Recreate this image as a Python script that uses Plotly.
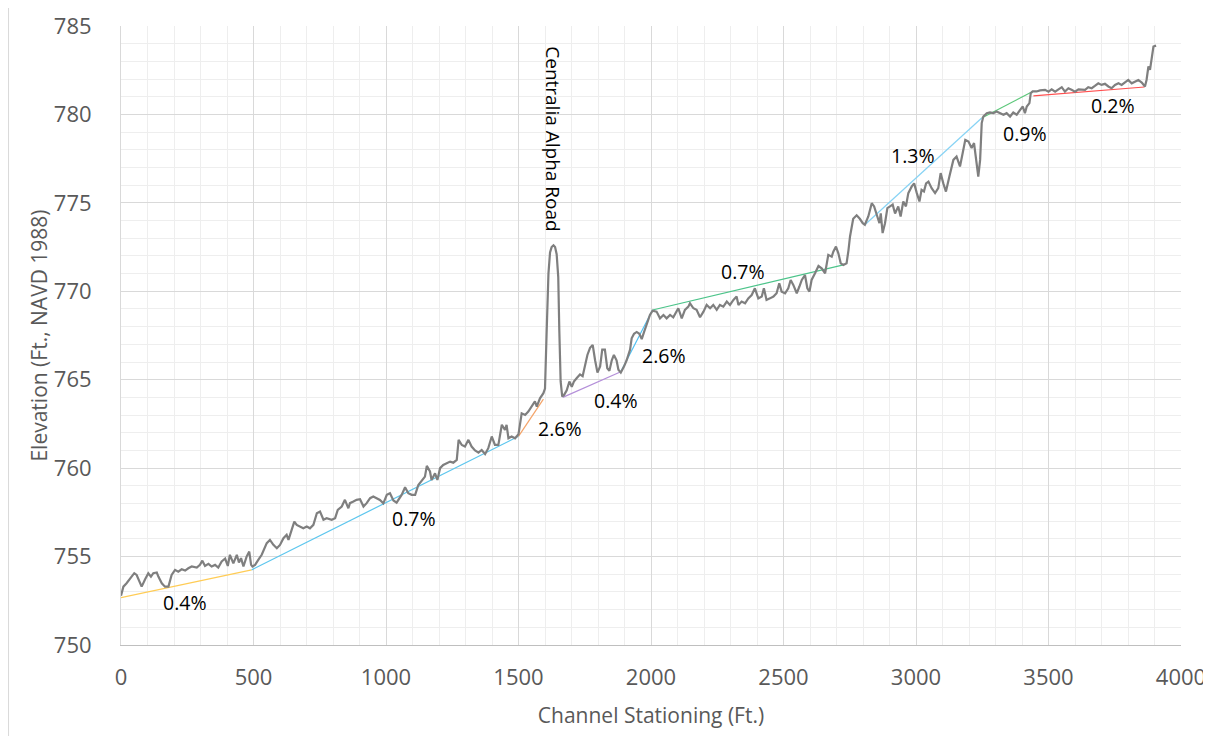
import plotly.graph_objects as go

# ---- Channel profile (station ft, elevation ft) ----
station = [
    0, 9, 21, 40, 50, 59, 68, 78, 91, 103, 113, 122, 135, 141, 154, 166, 179, 191, 204, 216,
    229, 242, 254, 267, 286, 298, 307, 317, 330, 342, 355, 367, 380, 393, 403, 411, 424, 437, 445, 453,
    462, 474, 484, 491, 496, 506, 518, 531, 550, 562, 575, 588, 600, 613, 625, 632, 644, 654, 663, 676,
    688, 701, 713, 726, 739, 751, 764, 776, 795, 808, 818, 833, 845, 858, 864, 877, 889, 902, 915, 927,
    940, 952,
    977, 990, 1003, 1015, 1028, 1040, 1059, 1072, 1084, 1097, 1110, 1122, 1135, 1147, 1154, 1166, 1172, 1185,
    1194, 1204, 1216, 1229, 1242, 1254, 1267, 1274, 1286, 1298, 1311, 1323, 1336, 1349, 1361, 1374, 1386, 1399,
    1411, 1424, 1437, 1449, 1455, 1462, 1474, 1487, 1500, 1512, 1525, 1537, 1550, 1562, 1569, 1581, 1594,
    1600, 1606, 1613, 1619, 1625, 1632, 1638, 1644, 1650, 1654, 1659, 1665,
    1672, 1682, 1692, 1701, 1709, 1720, 1732, 1742, 1751, 1760, 1770, 1780, 1789, 1798, 1808, 1816, 1826, 1835,
    1843, 1852, 1860, 1870, 1877, 1886,
    1898, 1908, 1921, 1927, 1936, 1946, 1956, 1965, 1974, 1984, 1996, 2006,
    2021, 2034, 2047, 2059, 2072, 2084, 2097, 2103, 2116, 2128, 2141, 2147, 2160, 2172, 2185, 2198, 2210, 2223,
    2235, 2248, 2260, 2273, 2286, 2298, 2311, 2323, 2330, 2342, 2355, 2367, 2380, 2392, 2405, 2418, 2426, 2436,
    2449, 2462, 2474, 2484, 2493, 2506, 2518, 2527, 2537, 2550, 2560, 2569, 2581, 2590, 2598, 2606, 2619, 2632,
    2644, 2657, 2669, 2682, 2688, 2698, 2707, 2716, 2726, 2738, 2745, 2751, 2763, 2776, 2788, 2799, 2807,
    2820, 2833, 2842, 2854, 2862, 2867, 2874, 2883, 2892, 2902, 2912, 2921, 2933, 2942, 2952, 2962, 2971, 2984,
    2993, 3003, 3013, 3021, 3030, 3038, 3047, 3059, 3072, 3084, 3093, 3103, 3113, 3126, 3141, 3153, 3166, 3176,
    3186, 3198, 3210, 3219, 3226, 3232, 3235, 3242, 3248, 3254, 3267, 3279, 3292, 3304, 3317, 3330, 3342, 3355,
    3367, 3380, 3393, 3403, 3411, 3418, 3428, 3433, 3440, 3455, 3468, 3480,
    3487, 3500, 3512, 3525, 3537, 3550, 3562, 3575, 3587, 3600, 3613, 3625, 3638, 3650, 3663, 3675, 3688, 3700,
    3713, 3726, 3738, 3751, 3764, 3776, 3789, 3801, 3814, 3826, 3839, 3852, 3864, 3870, 3877, 3883, 3889, 3896,
    3906,
]
elevation = [
    752.78, 753.30, 753.49, 753.87, 754.06, 753.96, 753.59, 753.30, 753.72, 754.06, 753.87, 754.06, 754.10, 753.87,
    753.49, 753.30, 753.30, 753.96, 754.25, 754.15, 754.28, 754.21, 754.34, 754.44, 754.38, 754.53, 754.77, 754.47,
    754.59, 754.44, 754.53, 754.38, 754.72, 754.89, 754.47, 755.10, 754.62, 755.10, 754.66, 754.91, 754.44, 755.00,
    755.28, 754.53, 754.44, 754.53, 754.81, 755.10, 755.76, 755.94, 755.66, 755.47, 755.66, 756.04, 756.23, 755.94,
    756.51, 756.98, 756.79, 756.70, 756.60, 756.70, 756.60, 756.79, 757.45, 757.55, 757.08, 757.17, 757.08, 757.17,
    757.64, 757.83, 758.21, 757.73, 758.02, 758.11, 758.21, 758.24, 757.83, 758.02, 758.30, 758.40,
    758.20, 758.01, 758.49, 758.58, 758.17, 758.05, 758.49, 758.92, 758.58, 758.49, 758.49, 759.05, 759.33, 759.52,
    760.13, 759.81, 759.33, 759.71, 759.33, 760.00, 760.18, 760.28, 760.37, 760.31, 760.47, 761.60, 761.31, 761.22,
    761.60, 761.22, 761.00, 760.88, 761.03, 760.80, 761.13, 761.79, 761.31, 761.31, 762.45, 762.16, 762.45, 761.69,
    761.79, 761.69, 761.92, 763.10, 763.01, 763.20, 763.48, 763.77, 763.48, 763.95, 764.24,
    764.50, 767.60, 771.00, 772.20, 772.50, 772.60, 772.50, 772.10, 770.80, 767.80, 764.90, 764.05,
    764.14, 764.40, 764.90, 764.60, 764.90, 765.10, 765.30, 765.20, 765.75, 766.40, 766.80, 766.97, 766.10, 765.40,
    765.75, 766.70, 766.70, 765.65, 765.50, 766.10, 766.40, 766.10, 765.56, 765.40,
    765.74, 766.10, 766.70, 767.34, 767.60, 767.70, 767.60, 767.30, 767.70, 768.20, 768.66, 768.90,
    768.85, 768.47, 768.66, 768.47, 768.66, 768.53, 768.85, 769.04, 768.47, 768.95, 769.13, 769.32, 769.04, 768.95,
    768.53, 768.85, 769.23, 769.04, 769.23, 768.95, 769.23, 769.13, 769.42, 769.23, 769.51, 769.70, 769.23, 769.42,
    769.32, 769.60, 769.79, 770.17, 769.60, 769.70, 770.17, 769.51, 769.60, 769.70, 769.89, 770.45, 769.98, 769.89,
    770.17, 770.64, 770.36, 769.89, 770.27, 770.64, 770.92, 770.17, 769.98, 770.64, 771.02, 771.43, 771.30, 771.02,
    772.06, 771.96, 772.24, 772.53, 772.15, 771.58, 771.49, 771.58, 772.30, 773.10, 774.10, 774.30, 774.10, 773.85,
    773.76,
    774.23, 774.98, 774.80, 774.23, 773.85, 774.40, 773.29, 773.85, 774.70, 774.80, 774.90, 774.40, 774.80, 774.23,
    775.08, 774.80, 775.55, 775.93, 776.10, 775.55, 775.08, 775.74, 775.65, 776.10, 776.20, 775.83, 775.55, 775.83,
    776.68, 776.10, 775.64, 776.49, 777.43, 777.62, 777.06, 777.81, 778.56, 778.47, 778.10, 778.38, 777.62, 776.68,
    776.49, 777.43, 779.51, 779.88, 780.07, 780.11, 780.07, 780.17, 780.07, 779.98, 780.07, 779.88, 780.11, 779.98,
    780.26, 780.45, 780.07, 780.45, 780.64, 781.20, 781.30, 781.30, 781.36, 781.39,
    781.39, 781.29, 781.42, 781.29, 781.39, 781.54, 781.29, 781.48, 781.39, 781.29, 781.42, 781.42, 781.39, 781.54,
    781.48, 781.61, 781.76, 781.67, 781.73, 781.58, 781.48, 781.67, 781.76, 781.67, 781.80, 781.95, 781.76, 781.86,
    781.95, 781.80, 781.58, 781.95, 782.71, 782.52, 783.27, 783.84, 783.89,
]

# ---- Fitted slope segments ----
seg_x0 = [0, 493, 1500, 1667, 1886, 2006, 2807, 3248, 3443]
seg_y0 = [752.68, 754.25, 761.80, 764.00, 765.45, 768.94, 773.76, 779.80, 781.05]
seg_x1 = [493, 1500, 1594, 1886, 2006, 2726, 3248, 3440, 3862]
seg_y1 = [754.25, 761.80, 763.90, 765.45, 768.94, 771.49, 779.80, 781.30, 781.55]
seg_colors = ["#FFCC55", "#5CC6EE", "#F4A469", "#B48FD9", "#4FC0F2", "#4CC48A", "#86D3F5", "#5CC77A", "#FF4F4F"]

# ---- Slope labels ----
label_text = ["0.4%", "0.7%", "2.6%", "0.4%", "2.6%", "0.7%", "1.3%", "0.9%", "0.2%"]
label_x = [242, 1106, 1657, 1868, 2049, 2347, 2989, 3411, 3743]
label_y = [752.4, 757.18, 762.27, 763.8, 766.35, 771.1, 777.66, 778.9, 780.5]

road_label = "Centralia Alpha Road"
road_x, road_y = 1630, 778.6

x_ticks = [0, 500, 1000, 1500, 2000, 2500, 3000, 3500, 4000]
y_ticks = [750, 755, 760, 765, 770, 775, 780, 785]

FONT = "Open Sans"
GRAY = "#595959"

fig = go.Figure()
for i in range(len(seg_x0)):
    fig.add_trace(go.Scatter(
        x=[seg_x0[i], seg_x1[i]], y=[seg_y0[i], seg_y1[i]], mode="lines",
        line=dict(color=seg_colors[i], width=1.2), hoverinfo="skip", showlegend=False,
    ))

fig.add_trace(go.Scatter(
    x=station, y=elevation, mode="lines",
    line=dict(color="#7F7F7F", width=2.2), showlegend=False,
))

for t, x, y in zip(label_text, label_x, label_y):
    fig.add_annotation(x=x, y=y, text=t, showarrow=False,
                       font=dict(family=FONT, size=19.5, color="#000000"))

fig.add_annotation(x=road_x, y=road_y, text=road_label, showarrow=False, textangle=90,
                   font=dict(family=FONT, size=19, color="#000000"))

# outer chart border line at left edge
fig.add_shape(type="line", xref="paper", yref="paper",
              x0=-0.1061, x1=-0.1061, y0=1.03, y1=-0.16,
              line=dict(color="#D9D9D9", width=1))

# page body has an 8px default margin: figure is offset accordingly
fig.update_layout(
    width=1203, height=728,
    margin=dict(l=113, r=30, t=18, b=91),
    paper_bgcolor="white", plot_bgcolor="white",
    font=dict(family=FONT, color=GRAY),
    showlegend=False,
)

fig.update_xaxes(
    range=[0, 4000], tickvals=x_ticks, ticktext=[str(v) for v in x_ticks],
    showgrid=True, gridcolor="#D9D9D9", gridwidth=1,
    minor=dict(dtick=100, showgrid=True, gridcolor="#EEEEEE", gridwidth=1),
    showline=True, linecolor="#BFBFBF", linewidth=1.3,
    zeroline=False, ticks="", tickfont=dict(family=FONT, size=22, color=GRAY),
    ticklabelstandoff=12,
    title=dict(text="Channel Stationing (Ft.)", font=dict(family=FONT, size=21, color=GRAY), standoff=18),
    automargin=False,
)
fig.update_yaxes(
    range=[750, 785], tickvals=y_ticks, ticktext=[str(v) for v in y_ticks],
    showgrid=True, gridcolor="#D9D9D9", gridwidth=1,
    minor=dict(dtick=1, showgrid=True, gridcolor="#EEEEEE", gridwidth=1),
    showline=True, linecolor="#D9D9D9", linewidth=1,
    zeroline=False, ticks="", tickfont=dict(family=FONT, size=22, color=GRAY),
    ticklabelstandoff=24,
    title=dict(text="Elevation (Ft., NAVD 1988)", font=dict(family=FONT, size=21, color=GRAY), standoff=0),
    automargin=False,
)

fig.write_html("out.html")
